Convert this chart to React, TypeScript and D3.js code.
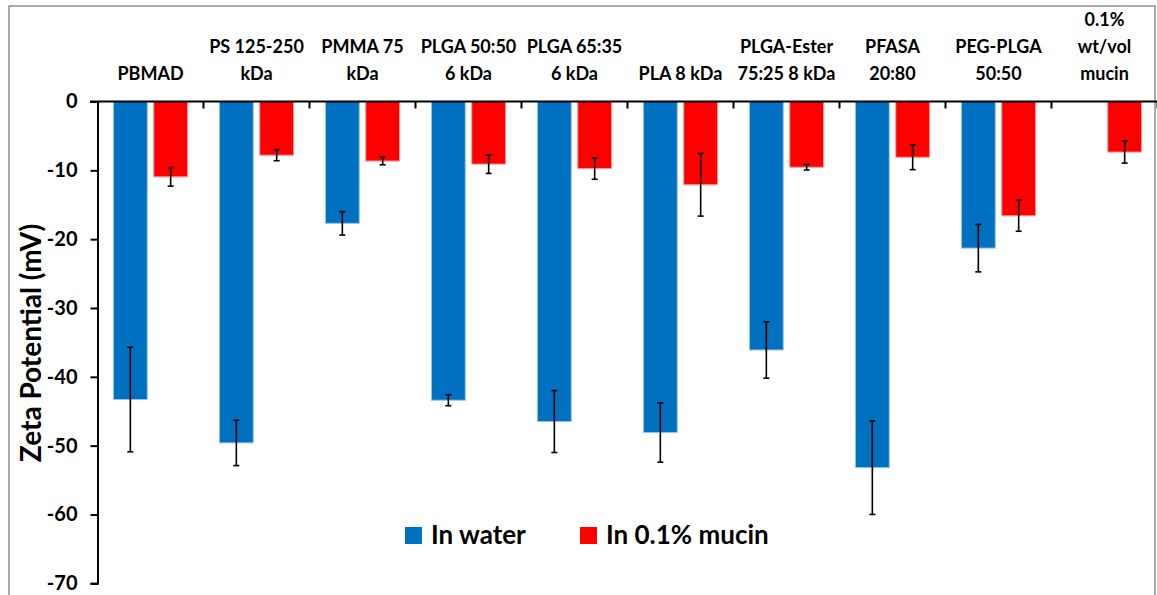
import React, { useEffect, useRef } from 'react';
import * as d3 from 'd3';

const categories = [
  ['PBMAD'],
  ['PS 125-250', 'kDa'],
  ['PMMA 75', 'kDa'],
  ['PLGA 50:50', '6 kDa'],
  ['PLGA 65:35', '6 kDa'],
  ['PLA 8 kDa'],
  ['PLGA-Ester', '75:25 8 kDa'],
  ['PFASA', '20:80'],
  ['PEG-PLGA', '50:50'],
  ['0.1%', 'wt/vol', 'mucin'],
];
const series = ['In water', 'In 0.1% mucin'];
const waterValues = [-43.3, -49.6, -17.7, -43.4, -46.5, -48.1, -36.1, -53.2, -21.3, null];
const waterErrors = [7.6, 3.3, 1.7, 0.8, 4.5, 4.3, 4.1, 6.8, 3.45, null];
const mucinValues = [-10.95, -7.8, -8.65, -9.1, -9.75, -12.1, -9.55, -8.1, -16.6, -7.35];
const mucinErrors = [1.35, 0.8, 0.55, 1.35, 1.55, 4.55, 0.4, 1.8, 2.25, 1.6];
const yTicks = [0, -10, -20, -30, -40, -50, -60, -70];

const colors = ['#0070c0', '#ff0000'];
const edges = ['#9dc3e6', '#ff9b9b'];
const font = 'Lato, "Liberation Sans", sans-serif';

const App = () => {
  const svgRef = useRef<SVGSVGElement>(null);

  useEffect(() => {
    const w = 1157;
    const h = 595;
    const svg = d3.select(svgRef.current).attr('width', w).attr('height', h);
    svg.selectAll('*').remove();

    // outer frame
    svg
      .append('path')
      .attr('d', `M9,${h + 5}V6H1155V${h + 5}`)
      .attr('fill', 'none')
      .attr('stroke', '#8f8f8f')
      .attr('stroke-width', 1.5);

    const x0 = d3
      .scaleBand<number>()
      .domain(d3.range(categories.length))
      .range([97.5, 1157.5])
      .paddingInner(0.3)
      .paddingOuter(0.15);
    const x1 = d3
      .scaleBand<number>()
      .domain([0, 1])
      .range([0, x0.bandwidth()])
      .paddingInner(0.16);
    const step = x0.step();
    const y = d3.scaleLinear().domain([-70, 0]).range([583.3, 101.5]);

    const rows = categories.map((c, i) => ({
      i,
      vals: [waterValues[i], mucinValues[i]],
      errs: [waterErrors[i], mucinErrors[i]],
    }));

    const bars = svg.append('g');
    rows.forEach((r) => {
      r.vals.forEach((v, s) => {
        if (v == null) return;
        const bx = x0(r.i)! + x1(s)!;
        bars
          .append('rect')
          .attr('x', bx)
          .attr('y', y(0))
          .attr('width', x1.bandwidth())
          .attr('height', y(v) - y(0))
          .attr('fill', colors[s])
          .attr('stroke', edges[s])
          .attr('stroke-width', 1);
        const e = r.errs[s]!;
        const cx = bx + x1.bandwidth() / 2;
        const g = bars.append('g').attr('stroke', '#000').attr('stroke-width', 1.6);
        g.append('line').attr('x1', cx).attr('x2', cx).attr('y1', y(v + e)).attr('y2', y(v - e));
        g.append('line').attr('x1', cx - 3).attr('x2', cx + 3).attr('y1', y(v + e)).attr('y2', y(v + e));
        g.append('line').attr('x1', cx - 3).attr('x2', cx + 3).attr('y1', y(v - e)).attr('y2', y(v - e));
      });
    });

    // y axis
    const yAxis = d3
      .axisLeft(y)
      .tickValues(yTicks)
      .tickSize(7)
      .tickPadding(13)
      .tickFormat((d) => String(d));
    const ya = svg.append('g').attr('transform', 'translate(97.5,0)').call(yAxis);
    ya.select('.domain').attr('stroke', '#000').attr('stroke-width', 2);
    ya.selectAll('.tick line').attr('stroke', '#000').attr('stroke-width', 2);
    ya.selectAll('.tick text')
      .attr('font-family', font)
      .attr('font-weight', 'bold')
      .attr('font-size', 20)
      .attr('fill', '#000');

    // top category axis at zero
    const top = svg.append('g');
    top
      .append('line')
      .attr('x1', 90)
      .attr('x2', w)
      .attr('y1', y(0))
      .attr('y2', y(0))
      .attr('stroke', '#000')
      .attr('stroke-width', 2);
    d3.range(1, categories.length + 1).forEach((k) => {
      const tx = 97.5 + step * k;
      top
        .append('line')
        .attr('x1', tx)
        .attr('x2', tx)
        .attr('y1', y(0))
        .attr('y2', y(0) + 7)
        .attr('stroke', '#000')
        .attr('stroke-width', 2);
    });
    categories.forEach((lines, i) => {
      const cx = x0(i)! + x0.bandwidth() / 2;
      const t = top
        .append('text')
        .attr('x', cx)
        .attr('text-anchor', 'middle')
        .attr('font-family', font)
        .attr('font-weight', 'bold')
        .attr('font-size', 18)
        .attr('fill', '#000');
      lines.forEach((ln, j) => {
        t.append('tspan')
          .attr('x', cx)
          .attr('y', 80 - (lines.length - 1 - j) * 27)
          .text(ln);
      });
    });

    // y title
    svg
      .append('text')
      .attr('transform', 'translate(41,343) rotate(-90)')
      .attr('text-anchor', 'middle')
      .attr('font-family', font)
      .attr('font-weight', 'bold')
      .attr('font-size', 28)
      .attr('fill', '#000')
      .text('Zeta Potential (mV)');

    // legend
    const legend = svg.append('g');
    const lx = [405, 580];
    series.forEach((name, s) => {
      legend
        .append('rect')
        .attr('x', lx[s])
        .attr('y', 527)
        .attr('width', 17)
        .attr('height', 17)
        .attr('fill', colors[s]);
      legend
        .append('text')
        .attr('x', lx[s] + 26)
        .attr('y', 544)
        .attr('font-family', font)
        .attr('font-weight', 'bold')
        .attr('font-size', 26)
        .attr('fill', '#000')
        .text(name);
    });
  }, []);

  return (
    <svg
      ref={svgRef}
      style={{ position: 'absolute', left: 0, top: 0, display: 'block', background: '#fff' }}
    ></svg>
  );
};

export default App;
